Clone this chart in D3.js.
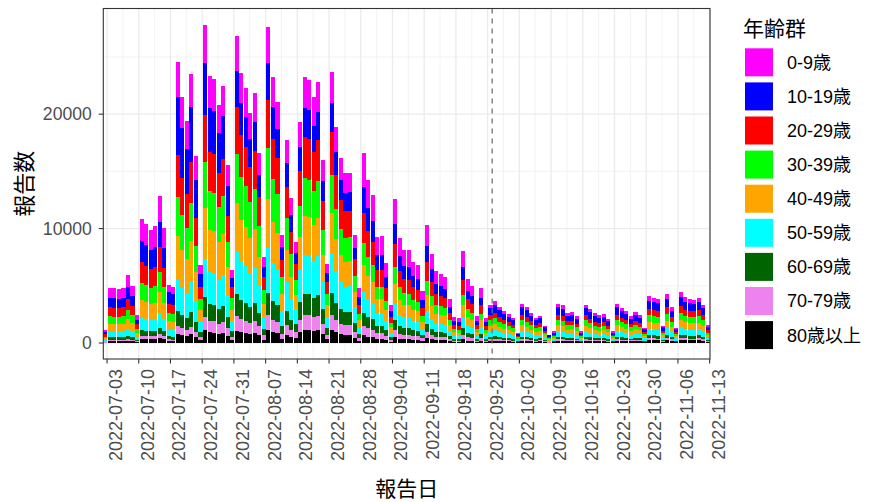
<!DOCTYPE html>
<html><head><meta charset="utf-8">
<script src="https://cdn.jsdelivr.net/npm/d3@7"></script>
<style>
html,body{margin:0;padding:0;background:#fff;}
svg{display:block;font-family:"Liberation Sans","Noto Sans CJK JP",Arial,sans-serif;}
</style></head>
<body>
<svg id="chart" width="871" height="502"></svg>
<script>
// ---- data ----
const startDate = "2022-07-03";
const endDate = "2022-11-13";
const markerDate = "2022-09-26";
const ageGroups = ["0-9歳","10-19歳","20-29歳","30-39歳","40-49歳","50-59歳","60-69歳","70-79歳","80歳以上"];
const ageColors = ["#FF00FF","#0000FF","#FF0000","#00FF00","#FFA500","#00FFFF","#006400","#EE82EE","#000000"];
const yTicks = [0, 10000, 20000];
const yMinorTicks = [5000, 15000, 25000];

const age0_9 = [210,860,860,850,860,1070,900,440,1950,1870,
1780,1830,2320,1820,640,610,3070,2690,2430,2940,
2040,820,3340,2800,2770,2500,2700,1870,720,3030,
2670,2510,2270,2470,1870,850,3120,2620,2380,1070,
2010,1430,1030,2240,2690,2670,2490,2650,1860,800,
2750,2190,1870,1720,1730,1090,850,2900,2500,2270,
1630,1600,1230,580,2210,1610,1430,1420,1250,1190,
790,1800,1370,1090,1060,1000,670,400,390,1400,
970,870,410,840,380,320,350,300,260,240,
210,80,330,300,250,210,230,140,70,100,
330,310,250,250,220,100,320,280,250,230,
240,200,100,320,290,260,220,260,230,120,
390,370,370,140,410,300,130,420,380,370,
360,370,320,150];
const age10_19 = [200,820,810,800,820,1010,850,420,1840,1770,
1680,1730,2190,1720,1050,1000,5030,4410,3980,4830,
3340,1130,4590,3850,3800,3430,3710,2570,760,3160,
2790,2630,2370,2570,1960,890,3260,2740,2490,1120,
2090,1490,960,2090,2510,2480,2320,2470,1730,750,
2560,2040,1740,1600,1610,1020,680,2320,2000,1810,
1300,1320,980,470,1760,1290,1140,1130,1000,950,
630,1440,1090,880,850,800,530,320,310,1120,
780,690,330,670,310,600,660,570,500,450,
390,160,620,570,470,390,430,270,130,180,
620,590,470,480,420,180,600,530,470,430,
450,380,180,620,550,500,420,490,440,240,
740,710,700,270,770,560,240,800,720,690,
680,710,600,280];
const age20_29 = [190,790,790,780,790,980,830,410,1790,1720,
1630,1680,2130,1660,770,740,3680,3230,2910,3530,
2450,990,4040,3390,3340,3020,3260,2260,980,4100,
3610,3400,3070,3340,2540,1150,4230,3550,3230,1450,
2720,1940,1380,3020,3620,3590,3350,3560,2500,1080,
3700,2950,2520,2310,2320,1470,750,2570,2210,2010,
1440,1460,1090,520,1950,1420,1260,1260,1100,1050,
700,1600,1210,970,940,890,590,360,340,1240,
860,770,360,740,340,450,490,420,370,340,
290,120,460,420,350,290,320,200,100,140,
460,450,350,360,320,140,450,400,350,320,
340,280,140,460,410,370,320,360,330,180,
550,530,520,200,580,420,180,600,540,520,
510,530,450,210];
const age30_39 = [160,670,670,660,670,830,700,350,1520,1460,
1380,1430,1800,1410,710,690,3430,3010,2720,3300,
2280,990,4040,3390,3340,3020,3260,2260,1020,4290,
3780,3560,3210,3490,2650,1200,4420,3710,3370,1510,
2840,2020,1250,2730,3270,3240,3030,3220,2260,970,
3340,2670,2280,2090,2100,1330,580,1990,1710,1550,
1120,1100,840,400,1510,1100,980,970,850,820,
540,1240,940,750,730,690,460,280,260,960,
670,590,280,580,260,470,510,440,390,350,
310,120,480,440,370,310,330,210,100,140,
480,460,370,380,330,140,470,410,360,340,
350,290,140,480,430,390,330,380,340,180,
570,550,540,210,600,440,190,620,560,540,
530,550,470,220];
const age40_49 = [160,670,670,660,670,830,700,350,1520,1460,
1380,1430,1800,1410,790,760,3800,3330,3010,3650,
2530,1090,4450,3740,3690,3330,3600,2490,990,4160,
3660,3450,3110,3380,2570,1160,4280,3600,3270,1460,
2750,1960,1300,2840,3410,3380,3160,3360,2350,1010,
3490,2780,2370,2180,2190,1380,680,2320,2000,1810,
1300,1310,980,470,1760,1290,1140,1130,1000,950,
630,1440,1090,880,850,800,530,320,310,1120,
780,690,330,670,310,490,530,460,400,360,
320,130,500,460,380,320,350,220,110,150,
500,480,380,390,340,150,490,430,380,350,
360,300,150,500,440,400,340,390,350,190,
590,570,560,220,620,450,200,640,580,560,
550,570,490,220];
const age50_59 = [120,480,480,470,480,600,500,250,1080,1040,
990,1020,1290,1010,560,540,2700,2370,2130,2590,
1790,820,3340,2800,2770,2500,2700,1870,910,3810,
3350,3160,2850,3100,2350,1070,3920,3300,2990,1340,
2520,1800,1300,2840,3410,3380,3160,3360,2350,1010,
3490,2780,2370,2180,2190,1380,530,1820,1570,1420,
1020,1030,770,370,1390,1010,900,890,780,750,
500,1130,860,690,670,630,420,250,240,880,
610,540,260,530,240,470,510,440,390,350,
310,120,480,440,370,310,330,210,100,140,
480,460,370,380,330,140,470,410,360,340,
350,290,140,480,430,390,330,380,340,180,
570,550,540,210,600,440,190,620,560,540,
530,550,470,220];
const age60_69 = [50,220,210,210,220,270,230,110,490,470,
450,460,580,450,280,270,1350,1180,1070,1290,
900,430,1750,1470,1450,1310,1420,980,450,1900,
1680,1580,1420,1550,1180,530,1960,1650,1500,670,
1260,900,710,1550,1860,1840,1720,1830,1280,550,
1900,1510,1290,1180,1190,750,340,1160,1000,910,
650,640,490,230,880,640,570,570,500,480,
320,720,550,440,420,400,270,160,150,560,
390,350,160,340,150,220,240,200,180,160,
140,60,220,200,170,140,160,100,50,70,
220,210,170,170,150,70,220,190,170,160,
160,140,70,220,200,180,150,180,160,90,
270,260,250,100,280,200,90,290,260,250,
250,260,220,100];
const age70_79 = [30,130,130,130,130,170,140,70,300,290,
280,290,360,280,140,130,660,580,520,640,
440,290,1170,980,970,870,950,650,310,1290,
1130,1070,960,1050,800,360,1330,1110,1010,450,
850,610,500,1080,1300,1290,1200,1280,900,390,
1330,1060,900,830,830,530,240,830,710,650,
470,480,350,170,630,460,410,410,360,340,
230,520,390,310,300,290,190,120,110,400,
280,250,120,240,110,130,150,130,110,100,
90,30,140,130,100,90,100,60,30,40,
140,130,100,110,90,40,130,120,100,100,
100,80,40,140,120,110,90,110,100,50,
160,160,160,60,170,120,50,180,160,150,
150,160,130,60];
const age80plus = [40,150,150,150,150,190,160,80,350,330,
320,330,410,320,170,160,810,710,640,780,
540,270,1110,930,920,830,900,620,260,1070,
940,890,800,870,660,300,1110,930,840,380,
710,510,430,950,1140,1130,1050,1120,780,340,
1160,930,790,730,730,460,190,660,570,520,
370,370,280,130,500,370,330,320,280,270,
180,410,310,250,240,230,150,90,90,320,
220,200,90,190,90,200,220,190,170,150,
130,50,210,190,160,130,140,90,40,60,
210,200,160,160,140,60,200,180,160,140,
150,130,60,210,180,170,140,160,150,80,
250,240,230,90,260,190,80,270,240,230,
240,240,200,90];

const seriesValues = [age0_9, age10_19, age20_29, age30_39, age40_49, age50_59, age60_69, age70_79, age80plus];

// ---- build table ----
const DAY = 86400000;
const parse = d3.utcParse("%Y-%m-%d");
const dates = d3.utcDay.range(parse(startDate), new Date(+parse(endDate) + DAY));
const rows = dates.map((d, i) => {
  const r = {date: d};
  ageGroups.forEach((g, j) => r[g] = seriesValues[j][i]);
  return r;
});

// ---- layout ----
const svg = d3.select("#chart");
const P = {left: 103.3, right: 710, top: 8.5, bottom: 359};
const x = d3.scaleUtc()
  .domain([new Date(+parse(startDate) - 0.825 * DAY), new Date(+parse(endDate) + 0.075 * DAY)])
  .range([P.left, P.right]);
const y = d3.scaleLinear().domain([-1395, 29230]).range([P.bottom, P.top]);

const weekTicks = d3.utcDay.every(7).range ? d3.utcDays(parse(startDate), new Date(+parse(endDate) + DAY), 7) : [];
const minorX = weekTicks.map(d => new Date(+d + 3.5 * DAY)).filter(d => d <= x.domain()[1]);

svg.append("rect").attr("x", P.left).attr("y", P.top)
  .attr("width", P.right - P.left).attr("height", P.bottom - P.top).attr("fill", "#fff");

const grid = svg.append("g");
grid.selectAll(".ymin").data(yMinorTicks).join("line")
  .attr("x1", P.left).attr("x2", P.right).attr("y1", d => y(d)).attr("y2", d => y(d))
  .attr("stroke", "#F0F0F0").attr("stroke-width", 0.8);
grid.selectAll(".xmin").data(minorX).join("line")
  .attr("y1", P.top).attr("y2", P.bottom).attr("x1", d => x(d)).attr("x2", d => x(d))
  .attr("stroke", "#F0F0F0").attr("stroke-width", 0.8);
grid.selectAll(".ymaj").data(yTicks).join("line")
  .attr("x1", P.left).attr("x2", P.right).attr("y1", d => y(d)).attr("y2", d => y(d))
  .attr("stroke", "#EBEBEB").attr("stroke-width", 1.3);
grid.selectAll(".xmaj").data(weekTicks).join("line")
  .attr("y1", P.top).attr("y2", P.bottom).attr("x1", d => x(d)).attr("x2", d => x(d))
  .attr("stroke", "#EBEBEB").attr("stroke-width", 1.3);

// ---- stacked bars ----
const keysBottomUp = ageGroups.slice().reverse();
const colorOf = d3.scaleOrdinal().domain(ageGroups).range(ageColors);
const stacked = d3.stack().keys(keysBottomUp)(rows);
const barW = x(new Date(+parse(startDate) + 0.9 * DAY)) - x(parse(startDate));
const barShift = -0.375 * DAY;

const plot = svg.append("g");
plot.selectAll("g.layer").data(stacked).join("g")
  .attr("class", "layer")
  .attr("fill", d => colorOf(d.key))
  .selectAll("rect").data(d => d).join("rect")
  .attr("shape-rendering", "crispEdges")
  .attr("x", d => x(new Date(+d.data.date + barShift)) - barW / 2)
  .attr("width", barW)
  .attr("y", d => y(d[1]))
  .attr("height", d => Math.max(0, y(d[0]) - y(d[1])));

// dashed marker line
svg.append("line")
  .attr("x1", x(parse(markerDate))).attr("x2", x(parse(markerDate)))
  .attr("y1", P.top).attr("y2", P.bottom)
  .attr("stroke", "#707070").attr("stroke-width", 1.3).attr("stroke-dasharray", "5,5");

// panel border
svg.append("rect").attr("x", P.left).attr("y", P.top)
  .attr("width", P.right - P.left).attr("height", P.bottom - P.top)
  .attr("fill", "none").attr("stroke", "#333").attr("stroke-width", 1.1);

// ---- axes ----
const axisCol = "#4D4D4D";
const yAx = svg.append("g");
yAx.selectAll("line").data(yTicks).join("line")
  .attr("x1", P.left - 4.5).attr("x2", P.left).attr("y1", d => y(d)).attr("y2", d => y(d))
  .attr("stroke", "#333").attr("stroke-width", 1.1);
yAx.selectAll("text").data(yTicks).join("text")
  .attr("x", P.left - 11.5).attr("y", d => y(d)).attr("dy", "0.35em")
  .attr("text-anchor", "end").attr("font-size", 17.6).attr("fill", axisCol)
  .text(d => d);

const fmt = d3.utcFormat("%Y-%m-%d");
const xAx = svg.append("g");
xAx.selectAll("line").data(weekTicks).join("line")
  .attr("y1", P.bottom).attr("y2", P.bottom + 4.5).attr("x1", d => x(d)).attr("x2", d => x(d))
  .attr("stroke", "#333").attr("stroke-width", 1.1);
xAx.selectAll("text").data(weekTicks).join("text")
  .attr("transform", d => `translate(${x(d)},${P.bottom + 10}) rotate(-90)`)
  .attr("dy", 15)
  .attr("text-anchor", "end").attr("font-size", 18).attr("fill", axisCol)
  .text(d => fmt(d));

// axis titles
svg.append("text").attr("x", (P.left + P.right) / 2).attr("y", 496)
  .attr("text-anchor", "middle").attr("font-size", 21).attr("fill", "#000").text("報告日");
svg.append("text").attr("transform", `translate(32,${(P.top + P.bottom) / 2}) rotate(-90)`)
  .attr("text-anchor", "middle").attr("font-size", 22).attr("fill", "#000").text("報告数");

// ---- legend ----
const lg = svg.append("g");
lg.append("text").attr("x", 743).attr("y", 36).attr("font-size", 21).attr("fill", "#000").text("年齢群");
const items = lg.selectAll("g.item").data(ageGroups).join("g")
  .attr("transform", (d, i) => `translate(745,${48.3 + i * 34.1})`);
items.append("rect").attr("width", 28).attr("height", 28).attr("fill", d => colorOf(d));
items.append("text").attr("x", 42).attr("y", 14).attr("dy", "0.36em")
  .attr("font-size", 18).attr("fill", "#000").text(d => d);
</script>
</body></html>
